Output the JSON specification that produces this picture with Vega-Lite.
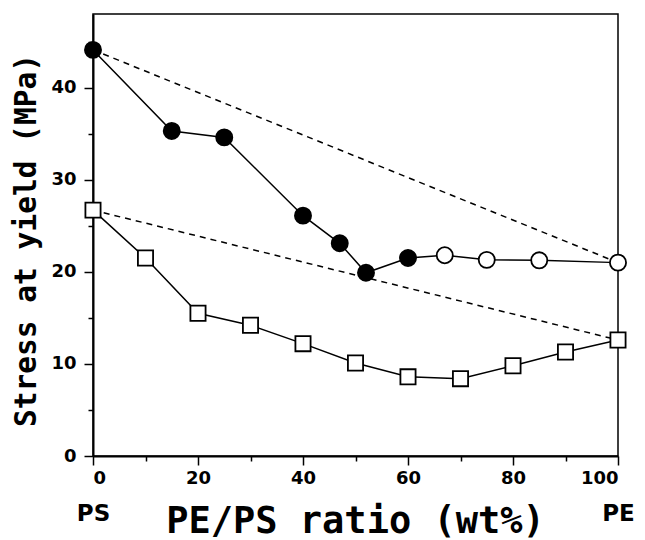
{
  "$schema": "https://vega.github.io/schema/vega-lite/v6.json",
  "autosize": {"type": "none"},
  "padding": {"left": 93, "top": 14, "right": 27, "bottom": 84},
  "width": 525,
  "height": 442,
  "background": "white",
  "view": {"stroke": "black", "strokeWidth": 1.5},
  "config": {
    "font": "DejaVu Sans Mono",
    "axis": {
      "domainColor": "black",
      "domainWidth": 2,
      "tickColor": "black",
      "tickWidth": 1.5,
      "labelColor": "black",
      "labelFont": "DejaVu Sans",
      "labelFontWeight": "bold",
      "labelFontSize": 18,
      "titleColor": "black",
      "titleFont": "DejaVu Sans Mono",
      "titleFontWeight": "bold",
      "grid": false
    }
  },
  "datasets": {
    "circles": [
      {"pe": 0, "stress": 44.1, "phase": "filled"},
      {"pe": 15, "stress": 35.3, "phase": "filled"},
      {"pe": 25, "stress": 34.6, "phase": "filled"},
      {"pe": 40, "stress": 26.1, "phase": "filled"},
      {"pe": 47, "stress": 23.1, "phase": "filled"},
      {"pe": 52, "stress": 19.9, "phase": "filled"},
      {"pe": 60, "stress": 21.5, "phase": "filled"},
      {"pe": 67, "stress": 21.8, "phase": "open"},
      {"pe": 75, "stress": 21.3, "phase": "open"},
      {"pe": 85, "stress": 21.25, "phase": "open"},
      {"pe": 100, "stress": 21.0, "phase": "open"}
    ],
    "squares": [
      {"pe": 0, "stress": 26.7},
      {"pe": 10, "stress": 21.5},
      {"pe": 20, "stress": 15.5},
      {"pe": 30, "stress": 14.2},
      {"pe": 40, "stress": 12.2},
      {"pe": 50, "stress": 10.1},
      {"pe": 60, "stress": 8.6},
      {"pe": 70, "stress": 8.4},
      {"pe": 80, "stress": 9.8},
      {"pe": 90, "stress": 11.3},
      {"pe": 100, "stress": 12.6}
    ],
    "additivity": [
      {"pe": 0, "stress": 44.1, "pair": "upper"},
      {"pe": 100, "stress": 21.0, "pair": "upper"},
      {"pe": 0, "stress": 26.7, "pair": "lower"},
      {"pe": 100, "stress": 12.6, "pair": "lower"}
    ],
    "ends": [
      {"pe": 0, "name": "PS"},
      {"pe": 100, "name": "PE"}
    ]
  },
  "layer": [
    {
      "encoding": {
        "x": {
          "field": "pe", "type": "quantitative",
          "scale": {"domain": [0, 100], "nice": false},
          "axis": {
            "values": [0, 10, 20, 30, 40, 50, 60, 70, 80, 90, 100],
            "labelExpr": "datum.value % 20 == 0 ? datum.label : ''",
            "tickSize": {"condition": {"test": "datum.value % 20 == 0", "value": 9}, "value": 5},
            "labelPadding": 4,
            "title": "PE/PS ratio (wt%)",
            "titleFontSize": 37,
            "titlePadding": 16,
            "titleX": 262
          }
        },
        "y": {
          "field": "stress", "type": "quantitative",
          "scale": {"domain": [0, 48], "nice": false},
          "axis": {
            "values": [0, 5, 10, 15, 20, 25, 30, 35, 40, 45],
            "labelExpr": "datum.value % 10 == 0 ? datum.label : ''",
            "tickSize": {"condition": {"test": "datum.value % 10 == 0", "value": 9}, "value": 5},
            "labelPadding": 8,
            "title": "Stress at yield (MPa)",
            "titleFontSize": 29.5,
            "titlePadding": 9,
            "titleY": 226
          }
        }
      },
      "layer": [
        {
          "data": {"name": "additivity"},
          "mark": {"type": "line", "color": "black", "strokeWidth": 1.5, "strokeDash": [6, 5]},
          "encoding": {"detail": {"field": "pair"}}
        },
        {
          "data": {"name": "squares"},
          "mark": {"type": "line", "color": "black", "strokeWidth": 1.5}
        },
        {
          "data": {"name": "circles"},
          "mark": {"type": "line", "color": "black", "strokeWidth": 1.5}
        },
        {
          "data": {"name": "squares"},
          "mark": {"type": "point", "shape": "square", "filled": true, "fill": "white", "stroke": "black", "strokeWidth": 1.8, "size": 230, "opacity": 1}
        },
        {
          "data": {"name": "circles"},
          "mark": {"type": "point", "shape": "circle", "filled": true, "stroke": "black", "strokeWidth": 1.8, "size": 260, "opacity": 1},
          "encoding": {
            "fill": {
              "field": "phase", "type": "nominal",
              "scale": {"domain": ["filled", "open"], "range": ["black", "white"]},
              "legend": null
            }
          }
        }
      ]
    },
    {
      "data": {"name": "ends"},
      "mark": {"type": "text", "opacity": 0},
      "encoding": {
        "x": {
          "field": "pe", "type": "quantitative",
          "scale": {"domain": [0, 100], "nice": false},
          "axis": {
            "orient": "bottom",
            "values": [0, 100],
            "labelExpr": "datum.value == 0 ? 'PS' : 'PE'",
            "labelFontSize": 23,
            "labelFlush": false,
            "domain": false,
            "ticks": false,
            "labelPadding": 46,
            "title": null
          }
        },
        "text": {"field": "name"}
      }
    }
  ],
  "resolve": {"scale": {"x": "independent"}, "axis": {"x": "independent"}}
}
